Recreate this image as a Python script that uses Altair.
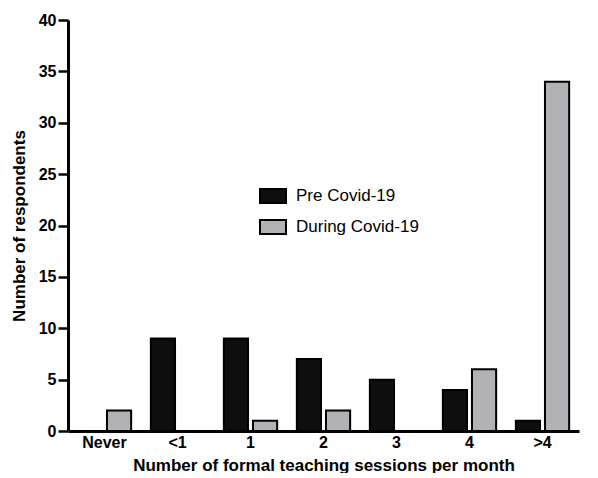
import altair as alt
import pandas as pd

categories = ["Never", "<1", "1", "2", "3", "4", ">4"]
pre_covid = [0, 9, 9, 7, 5, 4, 1]
during_covid = [2, 0, 1, 2, 0, 6, 34]
series_names = ["Pre Covid-19", "During Covid-19"]

rows = []
for c, p, d in zip(categories, pre_covid, during_covid):
    rows.append({"cat": c, "series": series_names[0], "value": p})
    rows.append({"cat": c, "series": series_names[1], "value": d})
df = pd.DataFrame(rows)

FONT = "Liberation Sans"

chart = alt.Chart(df).mark_bar(stroke="black", strokeWidth=2).encode(
    x=alt.X("cat:N", sort=categories,
            scale=alt.Scale(paddingInner=0.27, paddingOuter=0.135),
            axis=alt.Axis(title="Number of formal teaching sessions per month",
                          labelAngle=0, ticks=False, labelPadding=3,
                          titlePadding=7)),
    xOffset=alt.XOffset("series:N", sort=series_names,
                        scale=alt.Scale(paddingInner=0.17, paddingOuter=0)),
    y=alt.Y("value:Q", scale=alt.Scale(domain=[0, 40], nice=False),
            axis=alt.Axis(title="Number of respondents", values=list(range(0, 41, 5)),
                          grid=False, tickSize=10, tickWidth=2.5, labelPadding=2,
                          titlePadding=10)),
    color=alt.Color("series:N", sort=series_names,
                    scale=alt.Scale(domain=series_names, range=["#0e0e0e", "#b1b1b6"]),
                    legend=alt.Legend(title=None, orient="none", legendX=191, legendY=162,
                                      symbolType="M-1,-0.54H1V0.54H-1Z", symbolSize=676,
                                      symbolStrokeColor="black", symbolStrokeWidth=2,
                                      labelFontSize=17, labelFont=FONT, labelColor="black",
                                      labelOffset=9, rowPadding=5)),
).properties(width=511, height=411, padding={"left": 2, "top": 4, "right": 5, "bottom": 0}
).configure_view(stroke=None).configure_axis(
    domainColor="black", domainWidth=3, tickColor="black",
    labelFont=FONT, labelFontSize=16, labelFontWeight="bold", labelColor="black",
    titleFont=FONT, titleFontSize=17, titleFontWeight="bold", titleColor="black",
)

chart.save("out.html", embed_options={"renderer": "svg", "actions": False})
